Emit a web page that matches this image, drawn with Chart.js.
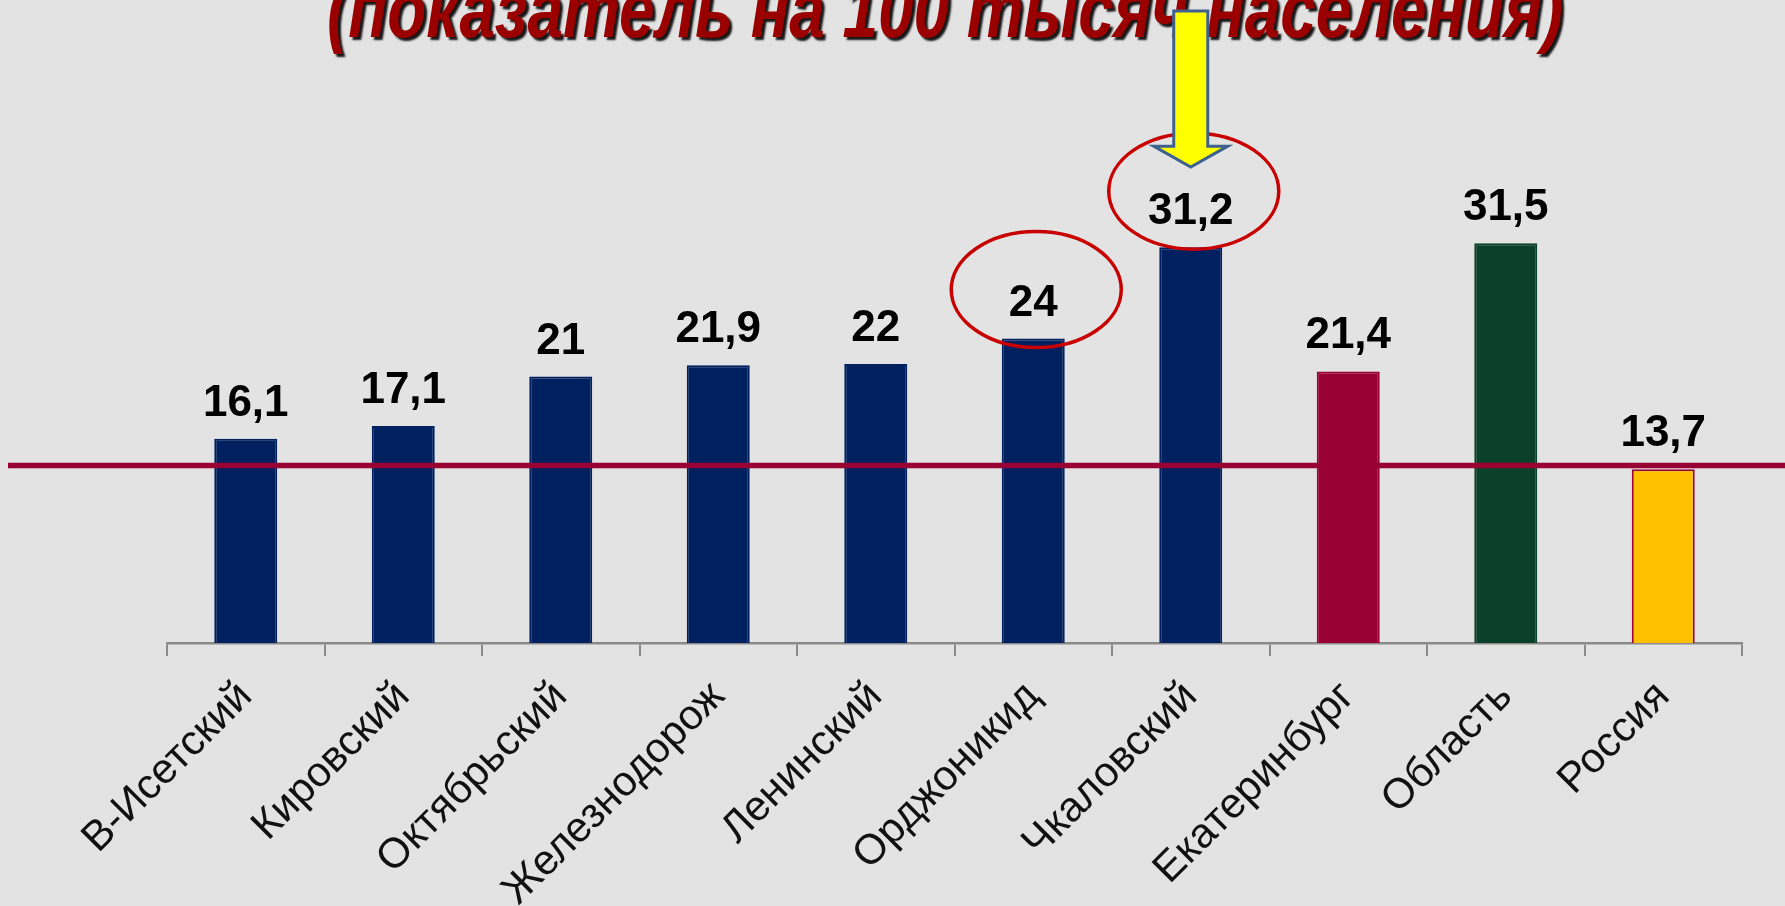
<!DOCTYPE html>
<html>
<head>
<meta charset="utf-8">
<script src="https://cdn.jsdelivr.net/npm/chart.js@4/dist/chart.umd.min.js"></script>
<style>
  html, body { margin: 0; padding: 0; background: #E3E3E3; overflow: hidden; }
  #wrap { width: 1785px; height: 906px; position: relative; }
  canvas { display: block; }
</style>
</head>
<body>
<div id="wrap"><canvas id="c" width="1785" height="906"></canvas></div>
<script>
// ---- data ----
const categories = ['В-Исетский', 'Кировский', 'Октябрьский', 'Железнодорож', 'Ленинский',
                    'Орджоникид', 'Чкаловский', 'Екатеринбург', 'Область', 'Россия'];
const values = [16.1, 17.1, 21, 21.9, 22, 24, 31.2, 21.4, 31.5, 13.7];
const barColors = ['#002060', '#002060', '#002060', '#002060', '#002060',
                   '#002060', '#002060', '#990033', '#0B402C', '#FFC000'];
const barBorders = ['#002060', '#002060', '#002060', '#002060', '#002060',
                    '#002060', '#002060', '#990033', '#0B402C', '#990033'];
const referenceValue = [14];
const highlighted = [5, 6];
const arrowTarget = [6];
const titleText = '(показатель на 100 тысяч населения)';

const fmt = v => String(v).replace('.', ',');

const decor = {
  id: 'decor',
  beforeDraw(chart) {
    const ctx = chart.ctx;
    ctx.save();
    ctx.fillStyle = '#E3E3E3';
    ctx.fillRect(0, 0, chart.width, chart.height);
    ctx.restore();
  },
  afterDatasetsDraw(chart) {
    const ctx = chart.ctx;
    const y = chart.scales.y;
    const meta = chart.getDatasetMeta(0);

    // reference line
    ctx.save();
    ctx.strokeStyle = '#990033';
    ctx.lineWidth = 5.5;
    const ry = y.getPixelForValue(referenceValue[0]);
    ctx.beginPath();
    ctx.moveTo(8, ry);
    ctx.lineTo(chart.width, ry);
    ctx.stroke();
    ctx.restore();

    // value labels
    ctx.save();
    ctx.font = 'bold 44px "Liberation Sans", Arial, sans-serif';
    ctx.fillStyle = '#000';
    ctx.textAlign = 'center';
    ctx.textBaseline = 'alphabetic';
    meta.data.forEach((bar, i) => {
      ctx.fillText(fmt(values[i]), bar.x, bar.y - 23);
    });
    ctx.restore();

    // ellipses
    const ellOff = { 5: -10, 6: -17 };
    ctx.save();
    ctx.strokeStyle = '#C80000';
    ctx.lineWidth = 3.5;
    highlighted.forEach(i => {
      const bar = meta.data[i];
      const cy = bar.y - 23 - 16 + (ellOff[i] || -12);
      ctx.beginPath();
      ctx.ellipse(bar.x + 3, cy, 85, 58, 0, 0, Math.PI * 2);
      ctx.stroke();
    });
    ctx.restore();
  },
  afterDraw(chart) {
    const ctx = chart.ctx;
    const meta = chart.getDatasetMeta(0);

    // title (cut off at the top)
    ctx.save();
    ctx.font = 'italic bold 66px "Liberation Sans", Arial, sans-serif';
    const w = ctx.measureText(titleText).width;
    const sx = 1236 / w;
    ctx.translate(327, 37);
    ctx.scale(sx, 1.22);
    ctx.shadowColor = 'rgba(0,0,0,0.9)';
    ctx.shadowOffsetX = 3;
    ctx.shadowOffsetY = 3;
    ctx.shadowBlur = 2;
    ctx.fillStyle = '#9A0000';
    ctx.textAlign = 'left';
    ctx.textBaseline = 'alphabetic';
    ctx.fillText(titleText, 0, 0);
    ctx.restore();

    // arrow
    const bar = meta.data[arrowTarget[0]];
    const cx = bar.x;
    const tipY = bar.y - 80;
    const baseY = tipY - 21;
    ctx.save();
    ctx.beginPath();
    ctx.moveTo(cx - 17, 11);
    ctx.lineTo(cx + 17, 11);
    ctx.lineTo(cx + 17, baseY);
    ctx.lineTo(cx + 37, baseY);
    ctx.lineTo(cx, tipY);
    ctx.lineTo(cx - 37, baseY);
    ctx.lineTo(cx - 17, baseY);
    ctx.closePath();
    ctx.fillStyle = '#FFFF00';
    ctx.fill();
    ctx.lineWidth = 3;
    ctx.strokeStyle = '#3F6190';
    ctx.lineJoin = 'miter';
    ctx.stroke();
    ctx.restore();
  }
};

new Chart(document.getElementById('c'), {
  type: 'bar',
  data: {
    labels: categories,
    datasets: [{
      data: values,
      backgroundColor: barColors,
      borderColor: barBorders,
      borderWidth: 2,
      barPercentage: 0.4,
      categoryPercentage: 1.0
    }]
  },
  options: {
    responsive: false,
    devicePixelRatio: 1,
    animation: false,
    layout: { padding: { left: 167, right: 43, top: 135.5, bottom: 0 } },
    plugins: { legend: { display: false }, tooltip: { enabled: false }, title: { display: false } },
    scales: {
      y: { display: false, min: 0, max: 40 },
      x: {
        offset: true,
        grid: { display: true, drawOnChartArea: false, drawTicks: true, tickLength: 13, color: '#8A8A8A', lineWidth: 2, offset: true },
        border: { display: true, color: '#8A8A8A', width: 2.5 },
        ticks: {
          autoSkip: false,
          minRotation: 45,
          maxRotation: 45,
          padding: 16,
          color: '#111',
          font: { family: '"Liberation Sans", Arial, sans-serif', size: 42, weight: 'normal' }
        },
        afterFit(scale) {
          scale.paddingLeft = 0;
          scale.paddingRight = 0;
          scale.height = 263;
        }
      }
    }
  },
  plugins: [decor]
});
</script>
</body>
</html>
